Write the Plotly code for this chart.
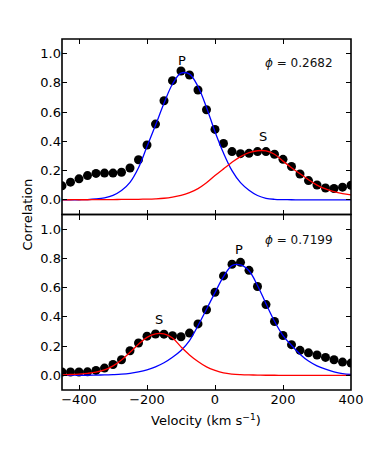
import plotly.graph_objects as go
from plotly.subplots import make_subplots

# ---------------- data ----------------
velocity = [-450, -425, -400, -375, -350, -325, -300, -275, -250, -225,
            -200, -175, -150, -125, -100, -75, -50, -25, 0, 25,
            50, 75, 100, 125, 150, 175, 200, 225, 250, 275,
            300, 325, 350, 375, 400]

# phase 0.2682 (top panel)
ccf_top = [0.096, 0.121, 0.144, 0.166, 0.181, 0.183, 0.183, 0.189, 0.218, 0.274,
           0.375, 0.518, 0.678, 0.815, 0.881, 0.854, 0.751, 0.616, 0.482, 0.386,
           0.330, 0.316, 0.318, 0.330, 0.330, 0.312, 0.277, 0.228, 0.177, 0.132,
           0.102, 0.081, 0.078, 0.087, 0.100]
fit_p_top = [0.000, 0.000, 0.001, 0.002, 0.006, 0.014, 0.031, 0.064, 0.120, 0.220,
             0.365, 0.510, 0.660, 0.792, 0.866, 0.860, 0.775, 0.632, 0.466, 0.320,
             0.200, 0.118, 0.066, 0.030, 0.011, 0.004, 0.002, 0.001, 0.000, 0.000,
             0.000, 0.000, 0.000, 0.000, 0.000]
fit_s_top = [0.000, 0.001, 0.001, 0.001, 0.002, 0.002, 0.002, 0.003, 0.003, 0.004,
             0.005, 0.007, 0.011, 0.019, 0.031, 0.050, 0.077, 0.117, 0.166, 0.212,
             0.257, 0.296, 0.323, 0.336, 0.335, 0.312, 0.265, 0.220, 0.178, 0.138,
             0.101, 0.075, 0.056, 0.043, 0.034]

# phase 0.7199 (bottom panel)
ccf_bot = [0.023, 0.023, 0.023, 0.024, 0.034, 0.050, 0.074, 0.107, 0.168, 0.221,
           0.268, 0.283, 0.282, 0.271, 0.264, 0.289, 0.352, 0.449, 0.568, 0.680,
           0.760, 0.773, 0.718, 0.608, 0.484, 0.368, 0.273, 0.210, 0.171, 0.154,
           0.139, 0.123, 0.107, 0.091, 0.084]
fit_p_bot = [0.000, 0.001, 0.001, 0.001, 0.002, 0.003, 0.005, 0.008, 0.014, 0.024,
             0.038, 0.058, 0.086, 0.124, 0.170, 0.238, 0.340, 0.452, 0.566, 0.675,
             0.750, 0.755, 0.715, 0.615, 0.490, 0.370, 0.272, 0.205, 0.145, 0.098,
             0.065, 0.042, 0.024, 0.012, 0.006]
fit_s_bot = [0.004, 0.006, 0.009, 0.014, 0.022, 0.037, 0.065, 0.105, 0.158, 0.213,
             0.260, 0.284, 0.283, 0.255, 0.195, 0.140, 0.095, 0.058, 0.034, 0.017,
             0.009, 0.005, 0.003, 0.002, 0.001, 0.001, 0.000, 0.000, 0.000, 0.000,
             0.000, 0.000, 0.000, 0.000, 0.000]

phase_labels = ["0.2682", "0.7199"]
x_ticks = [-400, -200, 0, 200, 400]
y_ticks = [0.0, 0.2, 0.4, 0.6, 0.8, 1.0]

# ---------------- figure ----------------
FONT = "DejaVu Sans"
fig = make_subplots(rows=2, cols=1, shared_xaxes=True, vertical_spacing=0)

panels = [(ccf_top, fit_p_top, fit_s_top, 1), (ccf_bot, fit_p_bot, fit_s_bot, 2)]
for ccf, fp, fs, row in panels:
    fig.add_trace(go.Scatter(x=velocity, y=ccf, mode="markers",
                             marker=dict(color="black", size=9, line=dict(width=0)),
                             showlegend=False), row=row, col=1)
    fig.add_trace(go.Scatter(x=velocity, y=fp, mode="lines",
                             line=dict(color="#0000ff", width=1.3, shape="spline", smoothing=1.0),
                             showlegend=False), row=row, col=1)
    fig.add_trace(go.Scatter(x=velocity, y=fs, mode="lines",
                             line=dict(color="#ff0000", width=1.3, shape="spline", smoothing=1.0),
                             showlegend=False), row=row, col=1)

axis_common = dict(showline=False, mirror="allticks", automargin=False,
                   ticks="inside", ticklen=5, tickwidth=1, tickcolor="black",
                   showgrid=False, zeroline=False,
                   tickfont=dict(family=FONT, size=13, color="black"))

for ax in ["xaxis", "xaxis2"]:
    fig.layout[ax].update(range=[-450, 400], tickvals=x_ticks, **axis_common)
fig.layout.xaxis.update(showticklabels=False)
fig.layout.xaxis2.update(ticktext=["\u2212400", "\u2212200", "0", "200", "400"])
for ax in ["yaxis", "yaxis2"]:
    fig.layout[ax].update(range=[-0.1, 1.1], tickvals=y_ticks,
                          ticktext=[f"{v:.1f}" for v in y_ticks], **axis_common)

# panel frames
for xr, yr in [("x domain", "y domain"), ("x2 domain", "y2 domain")]:
    fig.add_shape(type="rect", xref=xr, yref=yr, x0=0, x1=1, y0=0, y1=1,
                  line=dict(color="black", width=1.6), fillcolor="rgba(0,0,0,0)", layer="above")

# peak labels
ann_font = dict(family=FONT, size=13, color="black")
fig.add_annotation(x=-98, y=0.955, xref="x", yref="y", text="P", showarrow=False, font=ann_font)
fig.add_annotation(x=142, y=0.43, xref="x", yref="y", text="S", showarrow=False, font=ann_font)
fig.add_annotation(x=71, y=0.862, xref="x2", yref="y2", text="P", showarrow=False, font=ann_font)
fig.add_annotation(x=-166, y=0.383, xref="x2", yref="y2", text="S", showarrow=False, font=ann_font)

phi_font = dict(family=FONT, size=12, color="#111111")
fig.add_annotation(x=246, y=0.936, xref="x", yref="y", text="<i>\u03d5</i> = " + phase_labels[0],
                   showarrow=False, font=phi_font)
fig.add_annotation(x=246, y=0.928, xref="x2", yref="y2", text="<i>\u03d5</i> = " + phase_labels[1],
                   showarrow=False, font=phi_font)

# axis titles
fig.add_annotation(x=-0.121, y=0.5, xref="paper", yref="paper", text="Correlation",
                   textangle=-90, showarrow=False, xanchor="center", yanchor="middle",
                   font=dict(family=FONT, size=13, color="black"))
fig.add_annotation(x=0.498, y=-0.086, xref="paper", yref="paper",
                   text="Velocity (km s<sup>\u22121</sup>)",
                   showarrow=False, xanchor="center", yanchor="middle",
                   font=dict(family=FONT, size=13, color="black"))

fig.update_layout(width=368, height=450, margin=dict(l=62, r=17, t=39, b=60, autoexpand=False),
                  paper_bgcolor="white", plot_bgcolor="white",
                  font=dict(family=FONT, size=13, color="black"))
fig.layout.yaxis.domain = [0.5, 1.0]
fig.layout.yaxis2.domain = [0.0, 0.5]

fig.write_html("out.html", config={"displayModeBar": False},
               post_script="document.body.style.margin='0px';")
